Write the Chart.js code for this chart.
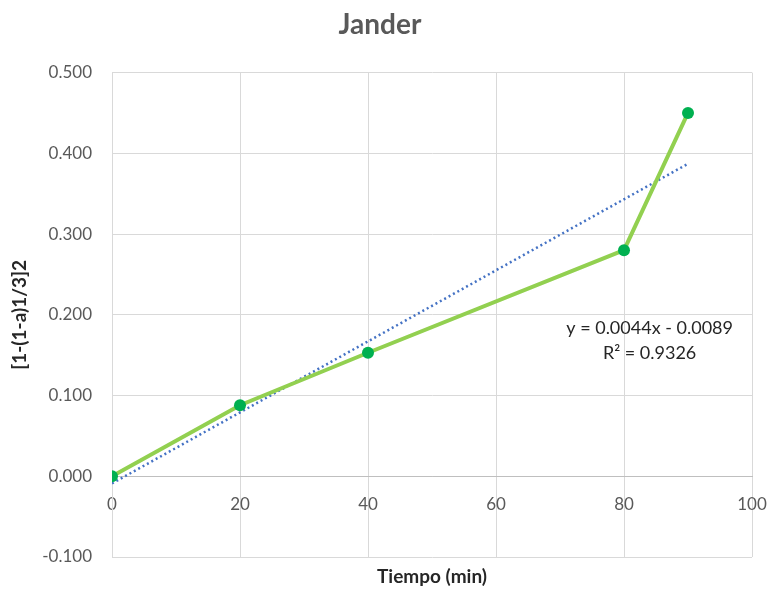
<!DOCTYPE html>
<html lang="es">
  <head>
    <meta charset="UTF-8" />
    <title>Jander</title>
    <script src="https://cdn.jsdelivr.net/npm/chart.js"></script>
    <style>
      body {
        margin: 0;
        background: #fff;
      }
      #wrap {
        width: 772px;
        height: 590px;
      }
    </style>
  </head>
  <body>
    <div id="wrap"><canvas id="chart"></canvas></div>
    <script>
      const tiempo = [0, 20, 40, 80, 90];
      const jander = [0.0, 0.088, 0.153, 0.28, 0.45];
      const yTicks = [-0.1, 0, 0.1, 0.2, 0.3, 0.4, 0.5];
      const xTicks = [0, 20, 40, 60, 80, 100];
      // linear trendline reported in the chart
      const slope = 0.0044;
      const intercept = -0.0089;
      const trendX = [0, 90];
      const eqLines = ["y = 0.0044x - 0.0089", "R² = 0.9326"];

      const fontFam = "Lato, 'Open Sans', sans-serif";

      const trendLabel = {
        id: "trendLabel",
        afterDatasetsDraw(chart) {
          const { ctx, scales } = chart;
          const x = scales.x.getPixelForValue(84);
          const y = scales.y.getPixelForValue(0.184);
          ctx.save();
          ctx.font = "18px " + fontFam;
          ctx.fillStyle = "#262626";
          ctx.textAlign = "center";
          ctx.textBaseline = "middle";
          ctx.fillText(eqLines[0], x, y);
          ctx.fillText(eqLines[1], x, y + 25);
          ctx.restore();
        },
      };

      new Chart(document.getElementById("chart"), {
        type: "scatter",
        data: {
          datasets: [
            {
              label: "Jander",
              data: tiempo.map((t, i) => ({ x: t, y: jander[i] })),
              showLine: true,
              borderColor: "#92d050",
              borderWidth: 4,
              pointRadius: 6,
              pointBackgroundColor: "#00b050",
              pointBorderColor: "#00b050",
              pointBorderWidth: 0,
            },
            {
              label: "Lineal",
              data: trendX.map((t) => ({ x: t, y: slope * t + intercept })),
              showLine: true,
              borderColor: "#4472c4",
              borderWidth: 2.5,
              borderDash: [2, 3],
              pointRadius: 0,
            },
          ],
        },
        options: {
          responsive: true,
          maintainAspectRatio: false,
          animation: false,
          layout: { padding: { left: 8, right: 20, top: 0, bottom: 2 } },
          plugins: {
            legend: { display: false },
            tooltip: { enabled: false },
            title: {
              display: true,
              text: "Jander",
              color: "#595959",
              font: { family: fontFam, size: 28, weight: "bold" },
              padding: { top: 8, bottom: 31 },
            },
          },
          scales: {
            x: {
              type: "linear",
              position: { y: 0 },
              min: 0,
              max: 100,
              afterBuildTicks: (s) => {
                s.ticks = xTicks.map((v) => ({ value: v }));
              },
              afterFit: (s) => {
                s.paddingLeft = 0;
                s.paddingRight = 0;
              },
              grid: { color: "#d9d9d9", drawTicks: false },
              border: { color: "#bfbfbf", width: 1 },
              ticks: {
                color: "#595959",
                font: { family: fontFam, size: 17 },
                padding: 18,
              },
            },
            x2: {
              type: "linear",
              position: "bottom",
              min: 0,
              max: 100,
              grid: { display: false },
              border: { display: false },
              ticks: { display: false },
              afterFit: (s) => {
                s.height = 31;
                s.paddingLeft = 0;
                s.paddingRight = 0;
              },
              title: {
                display: true,
                text: "Tiempo (min)",
                color: "#262626",
                font: { family: fontFam, size: 19, weight: "bold" },
                padding: { top: 8, bottom: 0 },
              },
            },
            y: {
              min: -0.1,
              max: 0.5,
              afterBuildTicks: (s) => {
                s.ticks = yTicks.map((v) => ({ value: v }));
              },
              afterFit: (s) => {
                s.width = 104;
              },
              grid: {
                color: (c) => (c.tick && c.tick.value === 0 ? "#bfbfbf" : "#d9d9d9"),
                drawTicks: false,
              },
              border: { color: "#d9d9d9" },
              ticks: {
                color: "#595959",
                font: { family: fontFam, size: 17 },
                padding: 20,
                callback: (v) => v.toFixed(3),
              },
              title: {
                display: true,
                text: "[1-(1-a)1/3]2",
                color: "#262626",
                font: { family: fontFam, size: 19, weight: "bold" },
                padding: { top: 0, bottom: 8 },
              },
            },
          },
        },
        plugins: [trendLabel],
      });
    </script>
  </body>
</html>
